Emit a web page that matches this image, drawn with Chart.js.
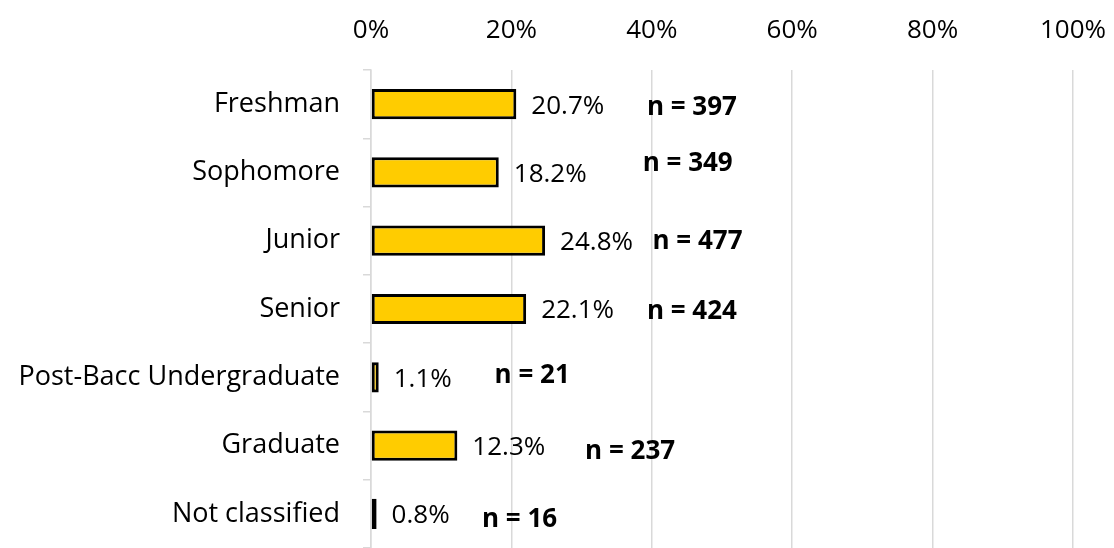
<!DOCTYPE html>
<html>
<head>
<meta charset="utf-8">
<title>Class standing</title>
<script src="https://cdn.jsdelivr.net/npm/chart.js@4/dist/chart.umd.min.js"></script>
<style>
    body { margin: 0; background: #fff; }
    #wrap { width: 1114px; height: 548px; }
</style>
</head>
<body>
<div id="wrap"><canvas id="classChart"></canvas></div>
<script>
// Chart data
const categories = ['Freshman', 'Sophomore', 'Junior', 'Senior', 'Post-Bacc Undergraduate', 'Graduate', 'Not classified'];
const percents = [20.7, 18.2, 24.8, 22.1, 1.1, 12.3, 0.8];
const counts = [397, 349, 477, 424, 21, 237, 16];
const tickValues = [0, 20, 40, 60, 80, 100];

// where the "n = ..." labels sit in the original (x in axis %, y nudge in px)
const countLabelX = [39.3, 38.7, 40.1, 39.3, 17.6, 30.5, 15.8];
const countLabelNudge = [3, -9, 1, 3, -2, 6, 6];

const FONT = '"Open Sans", "Noto Sans", sans-serif';

// Draw the value labels and the n labels after the bars
const labelPlugin = {
    id: 'barLabels',
    afterDatasetsDraw(chart) {
        const ctx = chart.ctx;
        const xScale = chart.scales.x;
        const meta = chart.getDatasetMeta(0);
        ctx.save();
        ctx.textBaseline = 'middle';
        ctx.textAlign = 'left';
        ctx.fillStyle = '#000';
        meta.data.forEach((bar, i) => {
            ctx.font = '26px ' + FONT;
            ctx.fillText(percents[i].toFixed(1) + '%', bar.x + 15, bar.y + 2);

            ctx.font = 'bold 26px ' + FONT;
            ctx.fillText('n = ' + counts[i], xScale.getPixelForValue(countLabelX[i]), bar.y + countLabelNudge[i]);
        });
        ctx.restore();
    }
};

const ctx = document.getElementById('classChart').getContext('2d');

new Chart(ctx, {
    type: 'bar',
    data: {
        labels: categories,
        datasets: [{
            data: percents,
            backgroundColor: '#FFCC00',
            borderColor: '#000000',
            borderWidth: 3,
            borderSkipped: false,
            categoryPercentage: 0.82,
            barPercentage: 0.54
        }]
    },
    options: {
        indexAxis: 'y',
        responsive: true,
        maintainAspectRatio: false,
        animation: false,
        layout: { padding: { left: 0, right: 41, top: 0, bottom: 0 } },
        plugins: {
            legend: { display: false },
            tooltip: { enabled: false }
        },
        scales: {
            x: {
                position: 'top',
                min: 0,
                max: 100,
                afterBuildTicks(axis) {
                    axis.ticks = tickValues.map(v => ({ value: v }));
                },
                afterFit(axis) {
                    axis.height = 70;
                    axis.paddingLeft = 0;
                    axis.paddingRight = 0;
                },
                border: { display: false },
                grid: {
                    color: '#d9d9d9',
                    lineWidth: 1.5,
                    drawTicks: false
                },
                ticks: {
                    padding: 24,
                    color: '#000',
                    font: { family: FONT, size: 26 },
                    callback: v => v + '%'
                }
            },
            y: {
                afterFit(axis) {
                    axis.width = 371;
                    axis.paddingTop = 0;
                    axis.paddingBottom = 0;
                },
                border: { display: true, color: '#d9d9d9', width: 1.5 },
                grid: {
                    offset: true,
                    drawOnChartArea: false,
                    drawTicks: true,
                    tickLength: 8,
                    color: '#d9d9d9',
                    lineWidth: 1.5
                },
                ticks: {
                    padding: 23,
                    color: '#000',
                    font: { family: FONT, size: 27 }
                }
            }
        }
    },
    plugins: [labelPlugin]
});
</script>
</body>
</html>
